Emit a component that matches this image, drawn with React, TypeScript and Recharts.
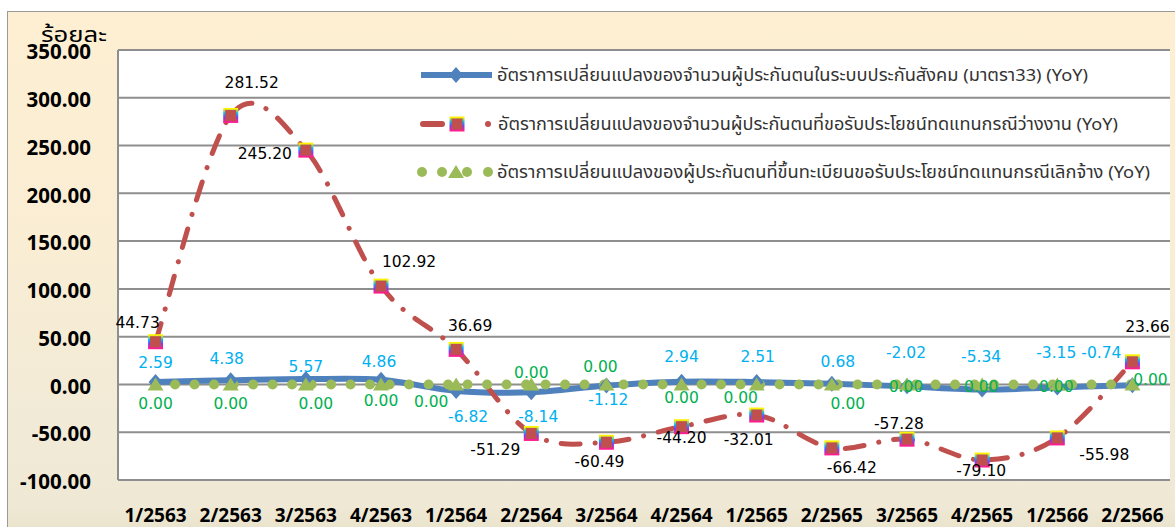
import React from 'react';
import { LineChart, Line, XAxis, YAxis, CartesianGrid, LabelList } from 'recharts';

// ---------- data ----------
const categories = ['1/2563', '2/2563', '3/2563', '4/2563', '1/2564', '2/2564', '3/2564', '4/2564', '1/2565', '2/2565', '3/2565', '4/2565', '1/2566', '2/2566'];
const socialSecurityYoY = [2.59, 4.38, 5.57, 4.86, -6.82, -8.14, -1.12, 2.94, 2.51, 0.68, -2.02, -5.34, -3.15, -0.74];
const unemploymentClaimYoY = [44.73, 281.52, 245.2, 102.92, 36.69, -51.29, -60.49, -44.2, -32.01, -66.42, -57.28, -79.1, -55.98, 23.66];
const terminationClaimYoY = [0, 0, 0, 0, 0, 0, 0, 0, 0, 0, 0, 0, 0, 0];
const yTicks = [-100, -50, 0, 50, 100, 150, 200, 250, 300, 350];

const legendLabels = [
  'อัตราการเปลี่ยนแปลงของจำนวนผู้ประกันตนในระบบประกันสังคม (มาตรา33) (YoY)',
  'อัตราการเปลี่ยนแปลงของจำนวนผู้ประกันตนที่ขอรับประโยชน์ทดแทนกรณีว่างงาน (YoY)',
  'อัตราการเปลี่ยนแปลงของผู้ประกันตนที่ขึ้นทะเบียนขอรับประโยชน์ทดแทนกรณีเลิกจ้าง (YoY)',
];
const yAxisTitle = 'ร้อยละ';

// ---------- label placement (style, offsets from each point) ----------
const blueDx = [0, -4, 0, -2, 12, 7, 2, 0, 1, 6, -1, -1, -1, -31];
const blueDy = [-20, -22, -13, -18, 25, 24, 14, -25, -26, -22, -34, -33, -35, -33];
const greenDx = [0, 0, 10, 0, -25, 0, -6, 0, -16, 16, -1, -1, -1, 18];
const greenDy = [19, 19, 19, 16, 17, -12, -18, 13, 13, 19, 2, 2, 2, -5];
const redDx = [-18, 21, -41, 28, 14, -36, -7, 0, -8, 20, -8, -1, 47, 15];
const redDy = [-19, -33, 3, -25, -24, 16, 19, 11, 24, 20, -16, 10, 16, -35];

const data = categories.map((c, i) => ({
  cat: c,
  ss: socialSecurityYoY[i],
  un: unemploymentClaimYoY[i],
  te: terminationClaimYoY[i],
}));

// Excel-like smoothing (Catmull-Rom) as a d3-style curve factory
function smoothCurve(context: any) {
  let pts: number[][] = [];
  return {
    areaStart() {},
    areaEnd() {},
    lineStart() {
      pts = [];
    },
    point(x: number, y: number) {
      pts.push([+x, +y]);
    },
    lineEnd() {
      const n = pts.length;
      if (!n) return;
      context.moveTo(pts[0][0], pts[0][1]);
      for (let i = 0; i < n - 1; i++) {
        const p0 = pts[i - 1] || pts[i];
        const p1 = pts[i];
        const p2 = pts[i + 1];
        const p3 = pts[i + 2] || p2;
        const c1x = p1[0] + (p2[0] - p0[0]) / 6;
        const c1y = p1[1] + (p2[1] - p0[1]) / 6;
        const c2x = p2[0] - (p3[0] - p1[0]) / 6;
        const c2y = p2[1] - (p3[1] - p1[1]) / 6;
        context.bezierCurveTo(c1x, c1y, c2x, c2y, p2[0], p2[1]);
      }
    },
  };
}

const NUM_FONT = "'DejaVu Sans', Tahoma, sans-serif";
const AXIS_FONT = "'Noto Sans', Tahoma, sans-serif";
const THAI_FONT = "Tahoma, 'Noto Sans Thai', 'Noto Sans', sans-serif";

const Diamond = (p: any) => {
  const { cx, cy } = p;
  if (cx == null || cy == null) return null;
  return <path d={`M${cx},${cy - 8}L${cx + 7},${cy}L${cx},${cy + 8}L${cx - 7},${cy}Z`} fill="#4F81BD" />;
};
const RedSquare = (p: any) => {
  const { cx, cy } = p;
  if (cx == null || cy == null) return null;
  return <rect x={cx - 6.5} y={cy - 6.5} width={13} height={13} fill="#C0504D" stroke="url(#rainbowEdge)" strokeWidth={2} />;
};
const Triangle = (p: any) => {
  const { cx, cy } = p;
  if (cx == null || cy == null) return null;
  return <path d={`M${cx},${cy - 7}L${cx + 8},${cy + 6}L${cx - 8},${cy + 6}Z`} fill="#9BBB59" />;
};

const makeLabel = (dx: number[], dy: number[], color: string) => (props: any) => {
  const { index, value, viewBox } = props;
  const px = props.x ?? viewBox?.x;
  const py = props.y ?? viewBox?.y;
  if (px == null || py == null || index == null) return null;
  return (
    <text
      key={`l-${color}-${index}`}
      x={px + dx[index]}
      y={py + dy[index]}
      dy="0.36em"
      textAnchor="middle"
      fill={color}
      fontSize={15.5}
      fontFamily={NUM_FONT}
    >
      {Number(value).toFixed(2)}
    </text>
  );
};

export default function App() {
  return (
    <div style={{ position: 'absolute', left: 0, top: 0, width: 1175, height: 527, overflow: 'hidden', background: '#ffffff' }}>
      <div
        style={{
          position: 'absolute',
          left: 7,
          top: 11,
          width: 1200,
          height: 540,
          border: '1px solid #9a9a9a',
          background: 'linear-gradient(to bottom, #FEEFD2 0%, #F9EDD4 45%, #F0EAD7 80%, #EEE8D4 92%, #E7DEC3 100%)',
        }}
      />
      <div style={{ position: 'absolute', left: 0, top: 0 }}>
        <LineChart width={1175} height={527} data={data} margin={{ top: 50, right: 5, left: 28, bottom: 17 }}>
          <CartesianGrid vertical={false} stroke="#8e8e8e" strokeWidth={2} fill="#ffffff" fillOpacity={1} />
          <XAxis
            dataKey="cat"
            scale="band"
            interval={0}
            height={30}
            tickLine={false}
            tickSize={0}
            tickMargin={29}
            axisLine={{ stroke: '#8e8e8e', strokeWidth: 2 }}
            tick={{ fill: '#000', fontSize: 19, fontWeight: 700, fontFamily: AXIS_FONT }}
          />
          <YAxis
            domain={[-100, 350]}
            ticks={yTicks}
            interval={0}
            width={90}
            tickLine={false}
            tickSize={0}
            tickMargin={27}
            axisLine={{ stroke: '#8e8e8e', strokeWidth: 2 }}
            tickFormatter={(v: number) => v.toFixed(2)}
            tick={{ fill: '#000', fontSize: 20.5, fontWeight: 700, fontFamily: AXIS_FONT, dy: 2 }}
          />
          <Line
            dataKey="ss"
            type={smoothCurve as any}
            stroke="#4F81BD"
            strokeWidth={6}
            dot={(p: any) => <Diamond key={`d-${p.index}`} {...p} />}
            activeDot={false}
            isAnimationActive={false}
          />
          <Line
            dataKey="un"
            type={smoothCurve as any}
            stroke="#C0504D"
            strokeWidth={5}
            strokeDasharray="19 15 0.1 15"
            strokeLinecap="round"
            dot={(p: any) => <RedSquare key={`s-${p.index}`} {...p} />}
            activeDot={false}
            isAnimationActive={false}
          />
          <Line
            dataKey="te"
            type="linear"
            stroke="#9BBB59"
            strokeWidth={10}
            strokeDasharray="0 19.5"
            strokeLinecap="round"
            dot={(p: any) => <Triangle key={`t-${p.index}`} {...p} />}
            activeDot={false}
            isAnimationActive={false}
          />
          <Line dataKey="un" stroke="none" dot={false} activeDot={false} isAnimationActive={false}>
            <LabelList dataKey="un" content={makeLabel(redDx, redDy, '#000000')} />
          </Line>
          <Line dataKey="ss" stroke="none" dot={false} activeDot={false} isAnimationActive={false}>
            <LabelList dataKey="ss" content={makeLabel(blueDx, blueDy, '#00B0F0')} />
          </Line>
          <Line dataKey="te" stroke="none" dot={false} activeDot={false} isAnimationActive={false}>
            <LabelList dataKey="te" content={makeLabel(greenDx, greenDy, '#00B050')} />
          </Line>
        </LineChart>
      </div>
      <svg width={1175} height={527} style={{ position: 'absolute', left: 0, top: 0, pointerEvents: 'none' }}>
        <defs>
          <linearGradient id="rainbowEdge" x1="0" y1="0" x2="0" y2="1">
            <stop offset="0%" stopColor="#FFF200" />
            <stop offset="35%" stopColor="#00B7FF" />
            <stop offset="65%" stopColor="#7A3CFF" />
            <stop offset="100%" stopColor="#FF1E8C" />
          </linearGradient>
        </defs>
        <text x={41} y={42} fontSize={21} fill="#000" fontFamily={THAI_FONT} textLength={66} lengthAdjust="spacingAndGlyphs">
          {yAxisTitle}
        </text>
        {/* legend row 1 */}
        <line x1={421} y1={75} x2={492} y2={75} stroke="#4F81BD" strokeWidth={6} />
        <Diamond cx={456} cy={75} />
        <text x={497} y={81} fontSize={17} fill="#333" fontFamily={THAI_FONT} textLength={591} lengthAdjust="spacingAndGlyphs">
          {legendLabels[0]}
        </text>
        {/* legend row 2 */}
        <line x1={423} y1={124} x2={442} y2={124} stroke="#C0504D" strokeWidth={6} strokeLinecap="round" />
        <RedSquare cx={457} cy={124} />
        <circle cx={488} cy={124} r={3} fill="#C0504D" />
        <text x={498} y={130} fontSize={17} fill="#333" fontFamily={THAI_FONT} textLength={620} lengthAdjust="spacingAndGlyphs">
          {legendLabels[1]}
        </text>
        {/* legend row 3 */}
        <circle cx={422} cy={172} r={5} fill="#9BBB59" />
        <circle cx={442} cy={172} r={5} fill="#9BBB59" />
        <circle cx={467} cy={172} r={5} fill="#9BBB59" />
        <Triangle cx={456} cy={172} />
        <circle cx={488} cy={172} r={5} fill="#9BBB59" />
        <text x={497} y={178} fontSize={17} fill="#333" fontFamily={THAI_FONT} textLength={653} lengthAdjust="spacingAndGlyphs">
          {legendLabels[2]}
        </text>
      </svg>
    </div>
  );
}
